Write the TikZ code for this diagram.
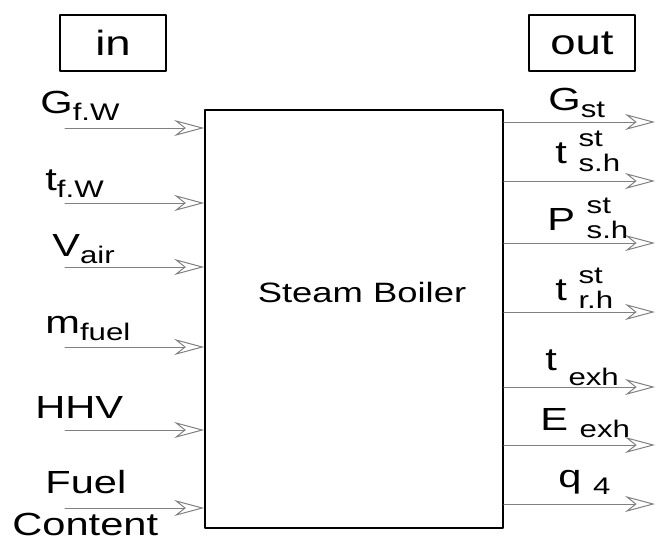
\documentclass[tikz,border=0pt]{standalone}
\usepackage{fontspec}
\setmainfont[FakeStretch=1.3]{Liberation Sans}
\usetikzlibrary{arrows.meta}
\newcommand{\lsub}[1]{\raisebox{-0.45ex}{\fontsize{12}{12}\selectfont #1}}
\newcommand{\lsubl}[1]{\raisebox{-0.9ex}{\fontsize{12}{12}\selectfont #1}}
\newcommand{\lsupsub}[2]{\rlap{\raisebox{1.0ex}{\fontsize{12}{12}\selectfont #1}}\raisebox{-0.5ex}{\fontsize{12}{12}\selectfont #2}}

\begin{document}
\begin{tikzpicture}[x=0.5pt,y=-0.5pt,>={Stealth[open,length=15pt,width=8pt,inset=5pt]},line cap=round,line join=round,font=\fontsize{16}{16}\selectfont]
\useasboundingbox (0,0) rectangle (656,540);
\node[draw,line width=0.7pt,minimum width=53pt,minimum height=28pt,font=\fontsize{17.5}{17.5}\selectfont] (in) at (113,43) {in};
\node[draw,line width=0.7pt,minimum width=53pt,minimum height=28pt,font=\fontsize{17.5}{17.5}\selectfont] (out) at (582,43) {out};
\node[draw,line width=0.8pt,minimum width=149pt,minimum height=209pt] (boiler) at (354,319) {};
\node[font=\fontsize{14}{14}\selectfont] (name) at (362,292) {Steam Boiler};
\foreach \y [count=\i] in {128,203,267,347,430,508} {\coordinate (a\i) at (65,\y); \draw[gray,line width=0.5pt,->] (a\i) -- (a\i -| boiler.west);}
\foreach \y [count=\i] in {122,181,243,312,387,445,504} {\coordinate (b\i) at (655,\y); \draw[gray,line width=0.5pt,->] (b\i -| boiler.east) -- (b\i);}
\node[anchor=base west,inner sep=0] (gfw) at (40,113) {G\lsub{f.W}};
\node[anchor=base west,inner sep=0] (tfw) at (45,190) {t\lsub{f.W}};
\node[anchor=base west,inner sep=0] (vair) at (52,256) {V\lsub{air}};
\node[anchor=base west,inner sep=0] (mfuel) at (45,333) {m\lsub{fuel}};
\node[anchor=base west,inner sep=0] (hhv) at (35,418) {HHV};
\node[anchor=base west,inner sep=0] (fuel) at (45,493) {Fuel};
\node[anchor=base west,inner sep=0] (content) at (12,535) {Content};
\node[anchor=base west,inner sep=0] (gst) at (548,110) {G\lsub{st}};
\node[anchor=base west,inner sep=0] (tsh) at (555,163) {t \lsupsub{st}{s.h}};
\node[anchor=base west,inner sep=0] (psh) at (547,230) {P \lsupsub{st}{s.h}};
\node[anchor=base west,inner sep=0] (trh) at (555,300) {t \lsupsub{st}{r.h}};
\node[anchor=base west,inner sep=0] (texh) at (545,370) {t \lsubl{exh}};
\node[anchor=base west,inner sep=0] (eexh) at (540,430) {E \lsub{exh}};
\node[anchor=base west,inner sep=0] (q4) at (558,487) {q \lsub{4}};
\end{tikzpicture}
\end{document}
